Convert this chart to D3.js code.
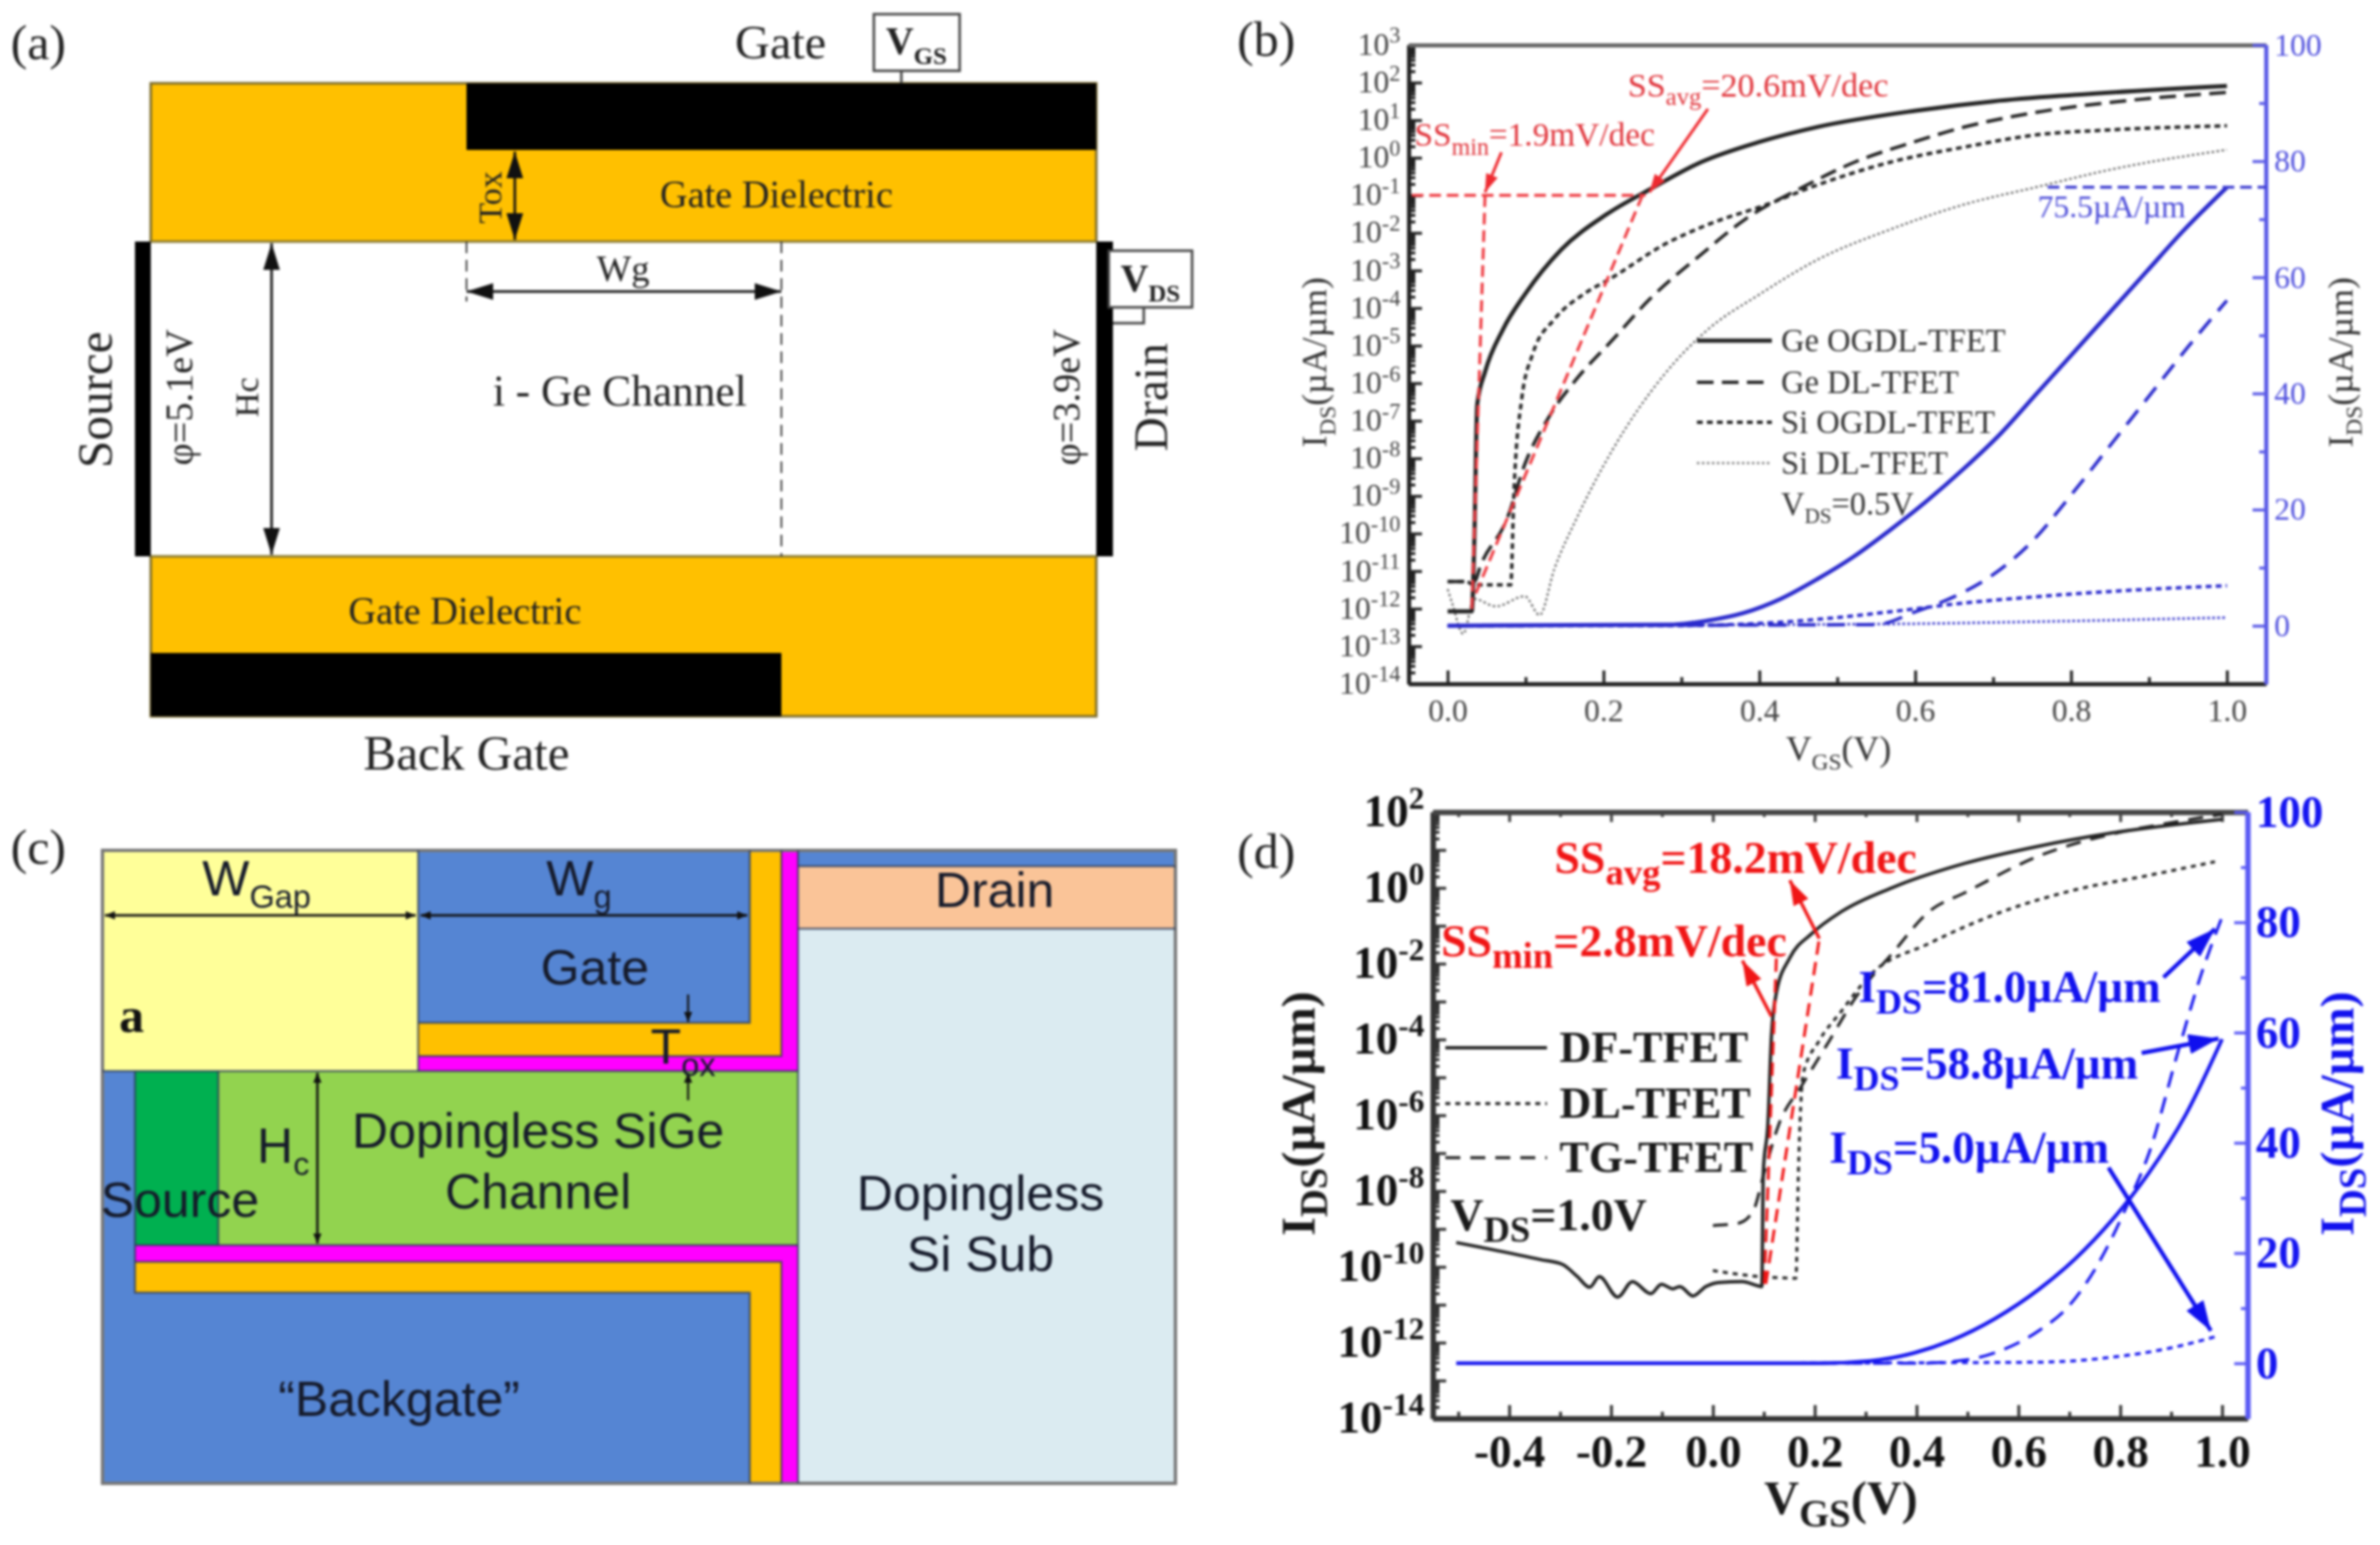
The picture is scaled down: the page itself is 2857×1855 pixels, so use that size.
<!DOCTYPE html>
<html><head><meta charset="utf-8">
<style>html,body{margin:0;padding:0;background:#fff}svg{display:block;filter:blur(1.6px)}</style>
<script src="https://cdnjs.cloudflare.com/ajax/libs/d3/7.8.5/d3.min.js"></script>
</head><body><svg id="s" width="2857" height="1855"></svg>
<script>
// ---- panel (b): [VGS, log10(IDS)] left axis
const bGeOgdl=[[0,-12.07],[.031,-12.07],[.034,-10.41],[.038,-6.56],[.048,-5.7],[.071,-4.57],[.099,-3.64],[.146,-2.44],[.203,-1.52],[.259,-.85],[.325,-.12],[.4,.42],[.475,.82],[.6,1.25],[.7,1.5],[.803,1.67],[1,1.91]];
const bGeDl=[[0,-11.28],[.034,-11.28],[.043,-10.81],[.076,-9.62],[.099,-8.16],[.132,-6.83],[.165,-5.9],[.212,-4.84],[.259,-3.77],[.325,-2.58],[.381,-1.65],[.456,-.78],[.522,-.12],[.597,.41],[.662,.81],[.756,1.21],[.85,1.47],[1,1.74]];
const bSiOgdl=[[0,-11.28],[.024,-11.28],[.034,-11.37],[.081,-11.37],[.085,-8.95],[.095,-6.43],[.109,-5.23],[.137,-4.3],[.174,-3.64],[.212,-3.18],[.278,-2.31],[.334,-1.78],[.409,-1.25],[.475,-.72],[.568,-.12],[.662,.28],[.756,.61],[.85,.74],[1,.85]];
const bSiDl=[[0,-11.48],[.006,-11.87],[.02,-12.67],[.034,-11.74],[.062,-11.94],[.099,-11.67],[.118,-12.17],[.137,-10.94],[.165,-9.62],[.212,-7.76],[.278,-5.77],[.334,-4.57],[.4,-3.64],[.475,-2.71],[.568,-1.91],[.662,-1.25],[.756,-.78],[.85,-.32],[1,.21]];
// panel (b): [VGS, IDS] right axis
const bBlueGeOgdl=[[0,0],[.29,.2],[.333,.86],[.38,2.2],[.427,4.6],[.474,8],[.52,11.8],[.568,16.5],[.615,21.5],[.662,27],[.709,33],[.756,40],[.803,47],[.85,54],[.897,61],[.944,68],[1,75.5]];
const bBlueGeDl=[[0,0],[.55,.2],[.6,2.4],[.65,5],[.7,8.8],[.75,14.5],[.8,22.5],[.85,31],[.9,39.5],[.95,48],[1,56]];
const bBlueSiOgdl=[[0,0],[.287,0],[.475,1.1],[.568,2.4],[.662,3.9],[.756,5],[.85,5.9],[1,6.9]];
const bBlueSiDl=[[0,0],[.568,.3],[.756,.7],[1,1.4]];
// panel (d)
const dDf=[[-.504,-9.36],[-.439,-9.53],[-.338,-9.81],[-.295,-9.94],[-.266,-10.26],[-.242,-10.54],[-.223,-10.26],[-.187,-10.8],[-.158,-10.39],[-.122,-10.71],[-.101,-10.46],[-.079,-10.58],[-.065,-10.52],[-.039,-10.77],[-.014,-10.52],[.014,-10.41],[.058,-10.39],[.096,-10.52],[.099,-7.5],[.108,-6.22],[.115,-3.9],[.125,-2.75],[.151,-1.85],[.194,-1.21],[.252,-.63],[.353,.01],[.496,.65],[.64,1.1],[.784,1.45],[1,1.81]];
const dDl=[[0,-10.1],[.094,-10.26],[.163,-10.3],[.168,-7.5],[.177,-4.93],[.209,-4.03],[.252,-3.26],[.309,-2.3],[.424,-1.47],[.568,-.63],[.712,-.05],[.856,.33],[.986,.69]];
const dTg=[[0,-8.91],[.05,-8.85],[.079,-8.53],[.101,-7.5],[.13,-6.22],[.173,-5.25],[.223,-4.16],[.281,-2.88],[.353,-1.72],[.424,-.63],[.496,-.12],[.64,.84],[.784,1.42],[.9,1.72],[1,1.94]];
const dBlueDf=[[-.504,0],[.209,0],[.309,.44],[.396,1.9],[.468,4.15],[.554,8.1],[.64,13.4],[.712,19],[.784,26],[.856,34.5],[.928,45],[1,58.8]];
const dBlueTg=[[0,0],[.4,0],[.496,.6],[.568,2.4],[.64,5.9],[.7,10.5],[.75,17],[.82,30],[.856,38],[.914,56.7],[.957,70],[1,81]];
const dBlueDl=[[0,0],[.64,.2],[.784,1.1],[.9,2.8],[.986,4.8]];
// tick values
const bXMajor=[0,.2,.4,.6,.8,1], bXMinor=[.1,.3,.5,.7,.9];
const bRMajor=[0,20,40,60,80,100], bRMinor=[10,30,50,70,90];
const bDecades=d3.range(-14,4), dDecades=d3.range(-14,3), dLabelled=dDecades.filter(k=>k%2===0);
const dXMajor=[-.4,-.2,0,.2,.4,.6,.8,1], dXMinor=[-.5,-.3,-.1,.1,.3,.5,.7,.9];
// annotations [x,log10 y] pairs
const bRedDashes=[[[-.046,-1],[.254,-1]],[[.048,-1],[.031,-12.07]],[[.25,-1],[.034,-11.7]]];
const bRedArrows=[[[.069,.145],[.048,-.92]],[[.334,1.3],[.259,-.92]]];
const dRedDashes=[[[.101,-10.45],[.125,-1.72]],[[.104,-10.45],[.209,-1.34]]];
const dRedArrows=[[[.115,-3.39],[.058,-1.92]],[[.209,-1.34],[.151,.2]]];
const dBlueArrows=[[[.885,70],[.986,78.8]],[[.842,56.3],[.993,58.9]],[[.777,35.5],[.978,5.9]]];

const svg=d3.select('#s');
const SERIF='"Liberation Serif",serif', SANS='"Liberation Sans",sans-serif';
const defs=svg.append('defs');
function marker(id,c,w,h){
  defs.append('marker').attr('id',id).attr('markerUnits','userSpaceOnUse').attr('viewBox',`0 0 ${w} ${h}`)
   .attr('refX',w).attr('refY',h/2).attr('markerWidth',w).attr('markerHeight',h).attr('orient','auto-start-reverse')
   .append('path').attr('d',`M0,0L${w},${h/2}L0,${h}Z`).attr('fill',c);
}
marker('ka','#111',32,20); marker('ks','#111',12,10); marker('rb','#ee2a30',22,15); marker('rd','#f01515',30,20); marker('bd','#1010ee',36,24);

function rich(el,str,size,ratio){
  const re=/_\{([^}]*)\}|\^\{([^}]*)\}|[^_^]+/g; let m,cur=0;
  while((m=re.exec(str))){
    const ts=el.append('tspan');
    let off=0,sz=size,txt=m[0];
    if(m[1]!==undefined){off=size*.26;sz=size*ratio;txt=m[1];}
    else if(m[2]!==undefined){off=-size*.38;sz=size*.66;txt=m[2];}
    ts.attr('font-size',sz).attr('dy',off-cur).text(txt); cur=off;
  }
}
function t(x,y,str,o={}){
  const size=o.size||40;
  const g=svg.append('text').attr('font-family',o.family||SERIF).attr('font-weight',o.weight||'normal')
    .attr('fill',o.fill||'#222').attr('text-anchor',o.anchor||'middle');
  if(o.rot) g.attr('transform',`translate(${x},${y}) rotate(${o.rot})`).attr('x',0).attr('y',size*.33);
  else g.attr('x',x).attr('y',y+size*.33);
  rich(g,str,size,o.sub||.65);
  return g;
}
function rect(x0,y0,x1,y1,fill,stroke,sw){
  svg.append('rect').attr('x',x0).attr('y',y0).attr('width',x1-x0).attr('height',y1-y0).attr('fill',fill)
    .attr('stroke',stroke||'none').attr('stroke-width',sw||0);
}
function ln(x0,y0,x1,y1,o={}){
  const l=svg.append('line').attr('x1',x0).attr('y1',y0).attr('x2',x1).attr('y2',y1)
    .attr('stroke',o.c||'#111').attr('stroke-width',o.w||2);
  if(o.dash) l.attr('stroke-dasharray',o.dash);
  if(o.end) l.attr('marker-end',`url(#${o.end})`);
  if(o.start) l.attr('marker-start',`url(#${o.start})`);
}

// ===== panel (a) =====
const aLayers=[[181,100,1316,860,'#ffc000'],[181,290,1316,668,'#ffffff'],[560,100,1316,180,'#000'],[181,784,938,860,'#000'],[162,290,181,668,'#000'],[1316,290,1336,668,'#000']];
rect(181,100,1316,860,'#ffc000','#7a6a2a',3);
aLayers.slice(1).forEach(d=>rect(d[0],d[1],d[2],d[3],d[4]));
ln(181,290,1316,290,{c:'#8a7a30',w:3}); ln(181,668,1316,668,{c:'#8a7a30',w:3});
ln(560,290,560,362,{w:2,c:'#333',dash:'14 8'}); ln(938,290,938,668,{w:2,c:'#333',dash:'14 8'});
ln(560,350,938,350,{w:3,start:'ka',end:'ka'});
ln(618,182,618,288,{w:3,start:'ka',end:'ka'});
ln(326,292,326,666,{w:3,start:'ka',end:'ka'});
t(46,51,'(a)',{size:60});
t(937,51,'Gate',{size:58});
rect(1049,17,1152,85,'#fff','#444',3); ln(1082,85,1082,100,{c:'#444',w:3});
t(1100,50,'V_{GS}',{size:46,weight:'bold'});
rect(1331,301,1431,369,'#fff','#444',3);
svg.append('path').attr('d','M1373,369V388H1336').attr('fill','none').attr('stroke','#444').attr('stroke-width',3);
t(1381,335,'V_{DS}',{size:46,weight:'bold'});
t(932,234,'Gate Dielectric',{size:46});
t(558,734,'Gate Dielectric',{size:46});
t(560,905,'Back Gate',{size:59});
t(744,470,'i - Ge Channel',{size:52});
t(748,322,'Wg',{size:44});
t(588,237,'Tox',{size:41,rot:-90});
t(296,477,'Hc',{size:41,rot:-90});
t(115,480,'Source',{size:59,rot:-90});
t(1382,477,'Drain',{size:57,rot:-90});
t(216,477,'φ=5.1eV',{size:46,rot:-90});
t(1281,477,'φ=3.9eV',{size:46,rot:-90});

// ===== panel (c) =====
const cLayers=[
 [958,1115,1411,1781,'#dbebf1'],[958,1021,1411,1040,'#5585d3'],[958,1040,1411,1115,'#fac498'],
 [123,1021,502,1286,'#ffff99'],[502,1021,900,1228,'#5585d3'],
 [502,1228,938,1268,'#ffc000'],[900,1021,938,1268,'#ffc000'],
 [502,1268,958,1286,'#ff00ff'],[938,1021,958,1286,'#ff00ff'],
 [262,1286,958,1495,'#92d34f'],[162,1286,262,1495,'#00b050'],[123,1286,162,1781,'#5585d3'],
 [123,1552,900,1781,'#5585d3'],[162,1515,938,1552,'#ffc000'],[900,1552,938,1781,'#ffc000'],
 [162,1495,958,1515,'#ff00ff'],[938,1495,958,1781,'#ff00ff']];
cLayers.forEach(d=>rect(d[0],d[1],d[2],d[3],d[4]));
svg.append('rect').attr('x',123).attr('y',1021).attr('width',1288).attr('height',760).attr('fill','none').attr('stroke','#777').attr('stroke-width',4);
[['M502,1021V1286'],['M502,1228H900V1021'],['M502,1268H938V1021'],['M958,1021V1781'],['M958,1040H1411'],['M958,1115H1411'],['M123,1286H958'],['M162,1286V1552H900V1781'],['M162,1495H958'],['M162,1515H938V1781'],['M262,1286V1495']]
 .forEach(d=>svg.append('path').attr('d',d[0]).attr('fill','none').attr('stroke','#2a3a5a').attr('stroke-width',2.5).attr('opacity',.75));
ln(126,1099,499,1099,{w:3,start:'ks',end:'ks'}); ln(505,1099,897,1099,{w:3,start:'ks',end:'ks'});
ln(381,1288,381,1493,{w:3,start:'ks',end:'ks'});
ln(826,1194,826,1227,{w:2.5,end:'ks'}); ln(826,1321,826,1288,{w:2.5,end:'ks'});
const cs={family:SANS,size:60,fill:'#151a2a'};
t(46,1017,'(c)',{size:60});
t(308,1055,'W_{Gap}',cs); t(695,1055,'W_{g}',cs);
t(1194,1069,'Drain',cs); t(714,1162,'Gate',cs);
t(158,1219,'a',{size:60,weight:'bold',fill:'#111'});
t(646,1358,'Dopingless SiGe',cs); t(646,1431,'Channel',cs);
t(216,1441,'Source',cs); t(340,1376,'H_{c}',cs);
t(1177,1433,'Dopingless',cs); t(1177,1506,'Si Sub',cs);
t(479,1680,'“Backgate”',cs); t(820,1257,'T_{ox}',cs);

// ===== chart helper =====
const fmt=d=>d3.format('.1f')(d).replace('\u2212','-');
function chart(c){
  const x=d3.scaleLinear().domain(c.xd).range([c.l,c.r]);
  const y=d3.scaleLog().domain(c.yd).range([c.b,c.t]);
  const yr=d3.scaleLinear().domain([-10,100]).range([c.b,c.t]);
  const axis=(gen,tr,col,w,font)=>{
    const g=svg.append('g').attr('transform',tr).call(gen);
    g.select('.domain').attr('stroke',col).attr('stroke-width',w);
    g.selectAll('.tick line').attr('stroke',col).attr('stroke-width',c.tw);
    g.selectAll('.tick text').attr('font-family',SERIF).attr('font-weight',c.bold?'bold':'normal').attr('font-size',c.fs).attr('fill',font||col);
    return g;
  };
  const minors=c.dec.slice(0,-1).flatMap(k=>d3.range(2,10).map(m=>m*10**k));
  const yLab=new Set(c.labelled);
  const la=axis(d3.axisLeft(y).tickValues(c.dec.map(k=>10**k)).tickSize(-16).tickSizeOuter(0).tickPadding(c.pad).tickFormat(''),`translate(${c.l},0)`,c.col,c.dw,c.txt);
  la.selectAll('.tick').each(function(d){
    const k=Math.round(Math.log10(d));
    if(!yLab.has(k)) return;
    const tx=d3.select(this).select('text').attr('dy',null).attr('y',c.fs*.3);
    tx.append('tspan').text('10');
    tx.append('tspan').attr('font-size',c.fs*.7).attr('dy',-c.fs*.38).text(k);
  });
  axis(d3.axisLeft(y).tickValues(minors).tickSize(-8).tickSizeOuter(0).tickFormat(''),`translate(${c.l},0)`,c.col,c.dw);
  axis(d3.axisBottom(x).tickValues(c.xMajor).tickSize(-16).tickSizeOuter(0).tickPadding(c.xpad).tickFormat(fmt),`translate(0,${c.b})`,c.col,c.dw,c.txt);
  axis(d3.axisBottom(x).tickValues(c.xMinor).tickSize(-8).tickSizeOuter(0).tickFormat(''),`translate(0,${c.b})`,c.col,c.dw);
  axis(d3.axisTop(x).tickValues(c.xMajor).tickSize(-c.topTick).tickSizeOuter(0).tickFormat(''),`translate(0,${c.t})`,c.topCol,c.dw);
  axis(d3.axisTop(x).tickValues(c.xMinor).tickSize(-c.topTick/2).tickSizeOuter(0).tickFormat(''),`translate(0,${c.t})`,c.topCol,c.dw);
  axis(d3.axisRight(yr).tickValues(bRMajor).tickSize(-16).tickSizeOuter(0).tickPadding(c.rpad).tickFormat(d3.format('d')),`translate(${c.r},0)`,c.blueAxis,c.dw,c.blueTxt);
  axis(d3.axisRight(yr).tickValues(bRMinor).tickSize(-8).tickSizeOuter(0).tickFormat(''),`translate(${c.r},0)`,c.blueAxis,c.dw);
  const logLine=d3.line().x(d=>x(d[0])).y(d=>y(10**d[1])).curve(d3.curveMonotoneX);
  const linLine=d3.line().x(d=>x(d[0])).y(d=>yr(d[1])).curve(d3.curveMonotoneX);
  const draw=(gen,data,col,w,dash)=>{
    const p=svg.append('path').datum(data).attr('d',gen).attr('fill','none').attr('stroke',col).attr('stroke-width',w).attr('stroke-linejoin','round');
    if(dash) p.attr('stroke-dasharray',dash);
  };
  const logSeg=(p,o)=>ln(x(p[0][0]),y(10**p[0][1]),x(p[1][0]),y(10**p[1][1]),o);
  const linSeg=(p,o)=>ln(x(p[0][0]),yr(p[0][1]),x(p[1][0]),yr(p[1][1]),o);
  return {x,y,yr,logLine,linLine,draw,logSeg,linSeg};
}

// ===== panel (b) =====
const B=chart({xd:[-.05,1.05],yd:[1e-14,1e3],l:1691,r:2720,t:54,b:821,dec:bDecades,labelled:bDecades,xMajor:bXMajor,xMinor:bXMinor,
  col:'#222',topCol:'#666',topTick:0,blueAxis:'#5a5ae6',blueTxt:'#5050dd',txt:'#444',dw:5,tw:3.5,fs:38,pad:10,xpad:18,rpad:10,bold:false});
B.draw(B.logLine,bSiDl,'#666',2.5,'3 3');
B.draw(B.logLine,bSiOgdl,'#222',4,'7 5');
B.draw(B.logLine,bGeDl,'#222',4,'20 10');
B.draw(B.logLine,bGeOgdl,'#222',5);
bRedDashes.forEach(p=>B.logSeg(p,{c:'#ee3a40',w:3.5,dash:'14 7'}));
bRedArrows.forEach(p=>B.logSeg(p,{c:'#ee2a30',w:3.5,end:'rb'}));
B.draw(B.linLine,bBlueSiDl,'#3232cc',3,'3 3');
B.draw(B.linLine,bBlueSiOgdl,'#2a2acc',4,'7 5');
B.draw(B.linLine,bBlueGeDl,'#2a2acc',4,'22 13');
B.draw(B.linLine,bBlueGeOgdl,'#2a2acc',5);
ln(B.x(.77),B.yr(75.5),2720,B.yr(75.5),{c:'#3a3ad0',w:3.5,dash:'14 7'});
t(1520,47,'(b)',{size:60});
t(1954,102,'SS_{avg}=20.6mV/dec',{size:41,anchor:'start',fill:'#e0333a',sub:.72});
t(1698,162,'SS_{min}=1.9mV/dec',{size:40,anchor:'start',fill:'#e0333a',sub:.72});
t(2446,248,'75.5µA/µm',{size:38,anchor:'start',fill:'#4a4ad8'});
ln(2037,409,2127,409,{c:'#222',w:5}); ln(2037,459,2127,459,{c:'#222',w:4,dash:'20 10'});
ln(2037,507,2127,507,{c:'#222',w:4,dash:'7 5'}); ln(2037,556,2127,556,{c:'#777',w:2.5,dash:'3 3'});
[['Ge OGDL-TFET',409],['Ge DL-TFET',459],['Si OGDL-TFET',507],['Si DL-TFET',556],['V_{DS}=0.5V',605]]
  .forEach(d=>t(2138,d[1],d[0],{size:39,anchor:'start',fill:'#333'}));
t(2207,899,'V_{GS}(V)',{size:43,fill:'#333'});
t(1578,435,'I_{DS}(µA/µm)',{size:43,rot:-90,fill:'#333'});
t(2810,435,'I_{DS}(µA/µm)',{size:43,rot:-90,fill:'#333'});

// ===== panel (d) =====
const D=chart({xd:[-.55,1.05],yd:[1e-14,1e2],l:1720,r:2698,t:975,b:1703,dec:dDecades,labelled:dLabelled,xMajor:dXMajor,xMinor:dXMinor,
  col:'#333',topCol:'#444',topTick:12,blueAxis:'#5a5af5',blueTxt:'#1515f0',txt:'#111',dw:6,tw:3.5,fs:54,pad:10,xpad:20,rpad:10,bold:true});
D.draw(D.logLine,dDl,'#222',3.5,'6 6');
D.draw(D.logLine,dTg,'#222',3.5,'18 12');
D.draw(D.logLine,dDf,'#222',4);
dRedDashes.forEach(p=>D.logSeg(p,{c:'#f01515',w:3.5,dash:'16 9'}));
dRedArrows.forEach(p=>D.logSeg(p,{c:'#f01515',w:4,end:'rd'}));
D.draw(D.linLine,dBlueDl,'#1818ee',3.5,'7 6');
D.draw(D.linLine,dBlueTg,'#1818ee',3.5,'20 12');
D.draw(D.linLine,dBlueDf,'#1818ee',4.5);
dBlueArrows.forEach(p=>D.linSeg(p,{c:'#1010ee',w:5,end:'bd'}));
t(1520,1022,'(d)',{size:60});
const bd={weight:'bold',anchor:'start',sub:.8};
t(1866,1030,'SS_{avg}=18.2mV/dec',{...bd,size:55,fill:'#f01515'});
t(1730,1130,'SS_{min}=2.8mV/dec',{...bd,size:55,fill:'#f01515'});
t(2231,1185,'I_{DS}=81.0µA/µm',{...bd,size:54,fill:'#1212ee'});
t(2204,1277,'I_{DS}=58.8µA/µm',{...bd,size:54,fill:'#1212ee'});
t(2196,1378,'I_{DS}=5.0µA/µm',{...bd,size:54,fill:'#1212ee'});
ln(1735,1258,1857,1258,{c:'#222',w:4}); ln(1735,1325,1857,1325,{c:'#222',w:3.5,dash:'6 6'}); ln(1735,1390,1857,1390,{c:'#222',w:3.5,dash:'18 12'});
[['DF-TFET',1258],['DL-TFET',1325],['TG-TFET',1390]].forEach(d=>t(1872,d[1],d[0],{...bd,size:53,fill:'#1a1a1a'}));
t(1741,1459,'V_{DS}=1.0V',{...bd,size:55,fill:'#1a1a1a'});
t(2210,1799,'V_{GS}(V)',{size:58,weight:'bold',fill:'#1a1a1a',sub:.8});
t(1559,1337,'I_{DS}(µA/µm)',{size:58,weight:'bold',rot:-90,fill:'#1a1a1a',sub:.8});
t(2806,1337,'I_{DS}(µA/µm)',{size:58,weight:'bold',rot:-90,fill:'#1212ee',sub:.8});
</script></body></html>
